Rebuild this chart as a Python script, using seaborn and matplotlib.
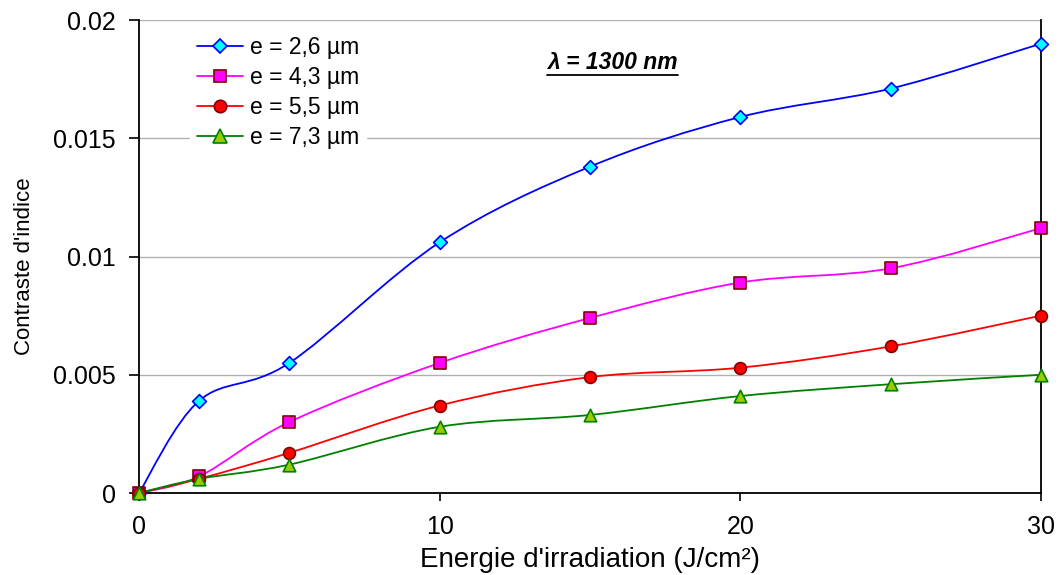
import numpy as np
import pandas as pd
import matplotlib
matplotlib.use("Agg")
import matplotlib.pyplot as plt
import seaborn as sns
from matplotlib.path import Path
from matplotlib.patches import PathPatch
from matplotlib.lines import Line2D

# ---- data ----
energie = [0, 2, 5, 10, 15, 20, 25, 30]
e_26 = [0.0, 0.0039, 0.0055, 0.0106, 0.0138, 0.0159, 0.0171, 0.0190]
e_43 = [0.0, 0.0007, 0.0030, 0.0055, 0.0074, 0.0089, 0.0095, 0.0112]
e_55 = [0.0, 0.0006, 0.0017, 0.0037, 0.0049, 0.0053, 0.0062, 0.0075]
e_73 = [0.0, 0.0006, 0.0012, 0.0028, 0.0033, 0.0041, 0.0046, 0.0050]
series_labels = ["e = 2,6 µm", "e = 4,3 µm", "e = 5,5 µm", "e = 7,3 µm"]
y_ticks = [0, 0.005, 0.01, 0.015, 0.02]
y_tick_labels = ["0", "0.005", "0.01", "0.015", "0.02"]
x_ticks = [0, 10, 20, 30]
title_text = "λ = 1300 nm"
xlabel = "Energie d'irradiation (J/cm²)"
ylabel = "Contraste d'indice"

styles = [
    dict(line="#0000FF", marker="D", face="#00FFFF", edge="#0000FF", ms=7),
    dict(line="#FF00FF", marker="s", face="#FF00FF", edge="#800000", ms=8.5),
    dict(line="#FF0000", marker="o", face="#FF0000", edge="#800000", ms=8.5),
    dict(line="#008000", marker="^", face="#99CC00", edge="#008000", ms=9),
]

sns.set_theme(style="white")
plt.rcParams["font.family"] = ["Liberation Sans", "DejaVu Sans"]
plt.rcParams["text.color"] = "black"

fig = plt.figure(figsize=(10.6, 5.75), dpi=100)
ax = fig.add_axes([0.1311, 0.1426, 0.8510, 0.8226])


def excel_smooth_path(xs, ys):
    pts = np.column_stack([xs, ys]).astype(float)
    n = len(pts)
    verts = [pts[0]]
    codes = [Path.MOVETO]
    for i in range(n - 1):
        p_prev = pts[i - 1] if i > 0 else pts[i]
        p0 = pts[i]
        p1 = pts[i + 1]
        p_next = pts[i + 2] if i + 2 < n else pts[i + 1]
        c1 = p0 + (p1 - p_prev) / 6.0
        c2 = p1 - (p_next - p0) / 6.0
        verts += [c1, c2, p1]
        codes += [Path.CURVE4] * 3
    return Path(verts, codes)


all_series = [e_26, e_43, e_55, e_73]
handles = []
for vals, lab, st in zip(all_series, series_labels, styles):
    df = pd.DataFrame({"x": energie, "y": vals})
    patch = PathPatch(excel_smooth_path(df["x"], df["y"]), fill=False,
                      edgecolor=st["line"], linewidth=1.3, zorder=3)
    ax.add_patch(patch)
    sns.scatterplot(data=df, x="x", y="y", ax=ax, marker=st["marker"],
                    color=st["face"], edgecolor=st["edge"], linewidth=1.2,
                    s=st["ms"] ** 2, zorder=4, clip_on=False, legend=False)
    handles.append(Line2D([], [], color=st["line"], linewidth=1.3,
                          marker=st["marker"], markerfacecolor=st["face"],
                          markeredgecolor=st["edge"], markeredgewidth=1.2,
                          markersize=st["ms"] * 1.05, label=lab))

ax.set_xlim(0, 30)
ax.set_ylim(0, 0.02)
ax.set_xticks(x_ticks)
ax.set_xticklabels([str(t) for t in x_ticks])
ax.set_yticks(y_ticks)
ax.set_yticklabels(y_tick_labels)
ax.tick_params(axis="both", which="both", direction="out", width=1.2,
               color="black", labelsize=18, labelcolor="black")
ax.tick_params(axis="y", left=True, length=7.5, pad=9)
ax.tick_params(axis="x", bottom=True, length=5.5, pad=10)

ax.yaxis.grid(True, color="#B0B0B0", linewidth=1.0)
ax.xaxis.grid(False)
ax.set_axisbelow(True)

for side in ["left", "bottom", "right"]:
    ax.spines[side].set_visible(True)
    ax.spines[side].set_color("black")
    ax.spines[side].set_linewidth(1.3)
ax.spines["top"].set_visible(False)

ax.set_xlabel(xlabel, fontsize=20, color="black", labelpad=6)
ax.set_ylabel(ylabel, fontsize=16, color="black")
ax.yaxis.set_label_coords(-0.115, 0.48)

leg = ax.legend(handles=handles, loc="upper left", bbox_to_anchor=(0.044, 1.005),
                frameon=True, fontsize=16.5, handlelength=2.0, labelspacing=0.3,
                borderpad=0.3, handletextpad=0.3)
leg.get_frame().set_facecolor("white")
leg.get_frame().set_edgecolor("white")
leg.get_frame().set_alpha(1.0)
for t in leg.get_texts():
    t.set_color("black")

txt = ax.text(0.525, 0.91, title_text, transform=ax.transAxes, ha="center",
              va="center", fontsize=16.5, fontweight="bold", style="italic",
              color="black")

fig.canvas.draw()
bb = txt.get_window_extent()
fig.add_artist(Line2D([bb.x0, bb.x1], [bb.y0 - 1, bb.y0 - 1],
                      transform=None, color="black", linewidth=1.3))

fig.savefig("out.png", dpi=100)
